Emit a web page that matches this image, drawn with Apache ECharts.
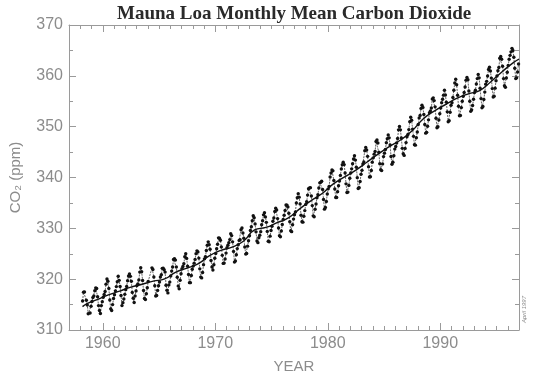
<!DOCTYPE html>
<html>
<head>
<meta charset="utf-8">
<script src="https://cdn.jsdelivr.net/npm/echarts@6/dist/echarts.min.js"></script>
<style>html,body{margin:0;padding:0;background:#fff}#c{width:535px;height:372px}</style>
</head>
<body>
<div id="c"></div>
<script>
// Monthly mean CO2 (ppm), Mauna Loa. null = missing month.
const startYear = 1958, startMonth = 3;
const co2_1958_1959 = [315.71,317.45,317.50,null,315.86,314.93,313.20,null,313.33,314.67,
  315.62,316.38,316.71,317.72,318.29,318.15,316.54,314.80,313.84,313.26,314.80,315.58];
const co2_1960s = [
  316.43,316.97,317.58,319.02,320.03,319.59,318.18,315.91,314.16,313.83,315.00,316.19,
  316.93,317.70,318.54,319.48,320.58,319.77,318.57,316.79,314.80,315.38,316.10,317.01,
  317.94,318.56,319.68,320.63,321.01,320.55,319.58,317.40,316.26,315.42,316.69,317.69,
  318.74,319.08,319.86,321.39,322.25,321.47,319.74,317.77,316.21,315.99,317.12,318.31,
  319.57,null,null,null,322.23,321.89,320.44,318.70,316.70,316.79,317.79,318.71,
  319.44,320.44,320.89,322.13,322.16,321.87,321.39,318.81,317.81,317.30,318.87,319.42,
  320.62,321.59,322.39,323.87,324.01,323.75,322.39,320.37,318.64,318.10,319.79,321.08,
  322.07,322.50,323.04,324.42,325.00,324.09,322.55,320.92,319.31,319.31,320.72,321.96,
  322.57,323.15,323.89,325.02,325.57,325.36,324.14,322.03,320.41,320.25,321.31,322.84,
  324.00,324.42,325.64,326.66,327.34,326.76,325.88,323.67,322.38,321.78,322.85,324.11];
const co2_1970s = [
  325.03,325.99,326.87,328.13,328.07,327.66,326.35,324.69,323.10,323.16,323.98,325.13,
  326.17,326.68,327.18,327.78,328.92,328.57,327.34,325.46,323.36,323.57,324.80,326.01,
  326.77,327.63,327.75,329.72,330.07,329.09,328.05,326.32,324.93,325.06,326.50,327.55,
  328.54,329.56,330.30,331.50,332.48,332.07,330.87,329.31,327.51,327.18,328.16,328.64,
  329.35,330.71,331.48,332.65,333.09,332.25,331.18,329.40,327.44,327.37,328.46,329.58,
  330.40,331.40,332.04,333.31,333.96,333.59,331.91,330.06,328.56,328.34,329.49,330.76,
  331.75,332.56,333.50,334.58,334.57,334.19,332.96,331.29,329.53,329.35,330.71,331.82,
  332.69,333.23,334.97,336.03,336.82,336.13,334.81,332.56,331.30,331.22,332.37,333.49,
  334.71,335.23,336.54,337.79,337.95,338.00,336.37,334.47,332.46,332.29,333.76,334.80,
  336.00,336.63,337.93,338.95,339.05,339.27,337.64,335.68,333.77,334.09,335.29,336.76];
const co2_1980s = [
  337.77,338.26,340.10,340.88,341.47,341.31,339.41,337.74,336.07,336.07,337.22,338.38,
  339.32,340.41,341.69,342.51,343.02,342.54,340.88,338.75,337.05,337.13,338.45,339.85,
  340.90,341.70,342.70,343.65,344.28,343.42,342.02,339.97,337.84,338.00,339.20,340.63,
  341.41,342.68,343.04,345.27,345.92,345.40,344.16,342.11,340.11,340.15,341.38,343.02,
  343.87,344.59,345.11,347.07,347.38,346.78,344.96,342.71,341.52,341.36,342.68,344.11,
  344.79,345.52,346.84,347.63,348.38,347.80,346.40,344.14,342.60,342.99,344.27,345.59,
  346.11,346.78,347.68,349.37,350.03,349.37,347.76,345.73,344.68,344.35,345.72,346.87,
  348.02,348.47,349.42,350.99,351.84,351.25,349.52,348.10,346.44,346.36,347.81,348.96,
  350.43,351.72,352.22,353.59,354.22,353.79,352.39,350.44,348.72,348.88,350.07,351.34,
  352.76,353.07,353.68,355.42,355.67,355.13,353.90,351.67,349.80,349.99,351.30,352.53];
const co2_1990s = [
  353.66,354.70,355.39,356.20,357.16,356.22,354.82,352.91,350.96,351.18,352.83,354.21,
  354.72,355.75,357.16,358.60,359.34,358.24,356.17,354.03,352.16,352.21,353.75,354.99,
  355.98,356.72,357.81,359.15,359.66,359.25,357.03,355.00,353.01,353.31,354.16,355.40,
  356.70,357.16,358.38,359.46,360.28,359.60,357.57,355.52,353.70,353.98,355.33,356.80,
  358.36,358.91,359.97,361.26,361.68,360.95,359.55,357.49,355.84,356.00,357.58,359.04,
  359.97,361.00,361.64,363.45,363.79,363.26,361.90,359.46,358.06,357.75,359.56,360.70,
  362.05,363.25,364.03,364.72,365.41,364.97,363.65,361.49,359.46,359.60,360.76,362.33];

// Smoothed trend (deseasonalised / annual means), [year, ppm]
const trendYears = [1958.2,1958.6,1959.5,1960.5,1961.5,1962.5,1963.5,1964.5,1965.5,1966.5,1967.5,1968.5,1969.5,
  1970.5,1971.5,1972.5,1973.5,1974.5,1975.5,1976.5,1977.5,1978.5,1979.5,1980.5,1981.5,1982.5,1983.5,
  1984.5,1985.5,1986.5,1987.5,1988.5,1989.5,1990.5,1991.5,1992.5,1993.5,1994.5,1995.5,1996.5,1997.0];
const trendValues = [314.6,315.2,315.97,316.91,317.64,318.45,318.99,319.62,320.04,321.38,322.16,323.04,324.62,
  325.68,326.32,327.45,329.68,330.18,331.11,332.04,333.83,335.40,336.84,338.75,340.11,341.45,343.05,
  344.65,346.12,347.42,349.19,351.57,353.12,354.39,355.61,356.45,357.10,358.83,360.82,362.61,363.3];

const xMajorTicks = [1960,1970,1980,1990];
const yTicks = [310,320,330,340,350,360,370];

const monthly = [].concat(co2_1958_1959, co2_1960s, co2_1970s, co2_1980s, co2_1990s);
const monthlyData = monthly.map(function(v, i){
  const m = startMonth - 1 + i;
  const t = startYear + Math.floor(m / 12) + ((m % 12) + 0.5) / 12;
  return [t, v];
});
const trendData = trendYears.map(function(y, i){ return [y, trendValues[i]]; });

const axisGray = '#9a9a9a';
const labelGray = '#8c8c8c';
const font = 'Liberation Sans, Arial, sans-serif';

function xAx(opts){
  return Object.assign({
    type:'value', min:1957, max:1997, gridIndex:0,
    splitLine:{show:false},
    axisLine:{show:true, lineStyle:{color:axisGray, width:1}},
    axisLabel:{show:false},
    axisTick:{show:true, inside:true, length:4, lineStyle:{color:axisGray}}
  }, opts);
}

const chart = echarts.init(document.getElementById('c'), null, {renderer:'canvas'});
chart.setOption({
  animation:false,
  backgroundColor:'#fff',
  title:{
    text:'Mauna Loa Monthly Mean Carbon Dioxide',
    left:112, top:0,
    textStyle:{fontFamily:'Liberation Serif, Times New Roman, serif', fontWeight:'bold', fontSize:19, color:'#2a2a2a'}
  },
  grid:{left:69, right:16, top:25, bottom:42, containLabel:false, outerBoundsMode:'none'},
  xAxis:[
    xAx({position:'bottom', name:'YEAR', nameLocation:'middle', nameGap:29,
      nameTextStyle:{color:labelGray, fontSize:15, fontFamily:font},
      axisTick:{show:true, inside:true, length:7, customValues:xMajorTicks, lineStyle:{color:axisGray}},
      axisLabel:{show:true, customValues:xMajorTicks, color:labelGray, fontSize:16, fontFamily:font, margin:6,
        formatter:function(v){ return String(Math.round(v)); }}}),
    xAx({position:'bottom', interval:1, axisLine:{show:false}}),
    xAx({position:'top', axisTick:{show:true, inside:true, length:7, customValues:xMajorTicks, lineStyle:{color:axisGray}}}),
    xAx({position:'top', interval:1, axisLine:{show:false}})
  ],
  yAxis:[
    {type:'value', min:310, max:370, interval:10, position:'left',
      name:'CO\u2082 (ppm)', nameLocation:'middle', nameGap:46,
      nameTextStyle:{color:labelGray, fontSize:15, fontFamily:font},
      splitLine:{show:false},
      axisLine:{show:true, lineStyle:{color:axisGray}},
      axisTick:{show:true, inside:true, length:7, lineStyle:{color:axisGray}},
      minorTick:{show:true, splitNumber:2, length:4, lineStyle:{color:axisGray}},
      axisLabel:{color:labelGray, fontSize:16, fontFamily:font, margin:6}},
    {type:'value', min:310, max:370, interval:10, position:'right',
      splitLine:{show:false},
      axisLine:{show:true, lineStyle:{color:axisGray}},
      axisTick:{show:true, inside:true, length:7, lineStyle:{color:axisGray}},
      minorTick:{show:true, splitNumber:2, length:4, lineStyle:{color:axisGray}},
      axisLabel:{show:false}}
  ],
  graphic:[{
    type:'text', left:521, top:296, rotation:Math.PI/2,
    style:{text:'April 1997', fill:'#888', fontSize:6, fontFamily:font, fontStyle:'italic'}
  }],
  series:[
    {type:'line', xAxisIndex:0, yAxisIndex:0, data:monthlyData, connectNulls:true,
      symbol:'circle', symbolSize:3.4, showSymbol:true,
      itemStyle:{color:'#111'}, lineStyle:{color:'#222', width:0.7, type:[2,1]}},
    {type:'line', xAxisIndex:0, yAxisIndex:0, data:trendData, smooth:true,
      symbol:'none', lineStyle:{color:'#111', width:1.4}}
  ]
});
</script>
</body>
</html>
